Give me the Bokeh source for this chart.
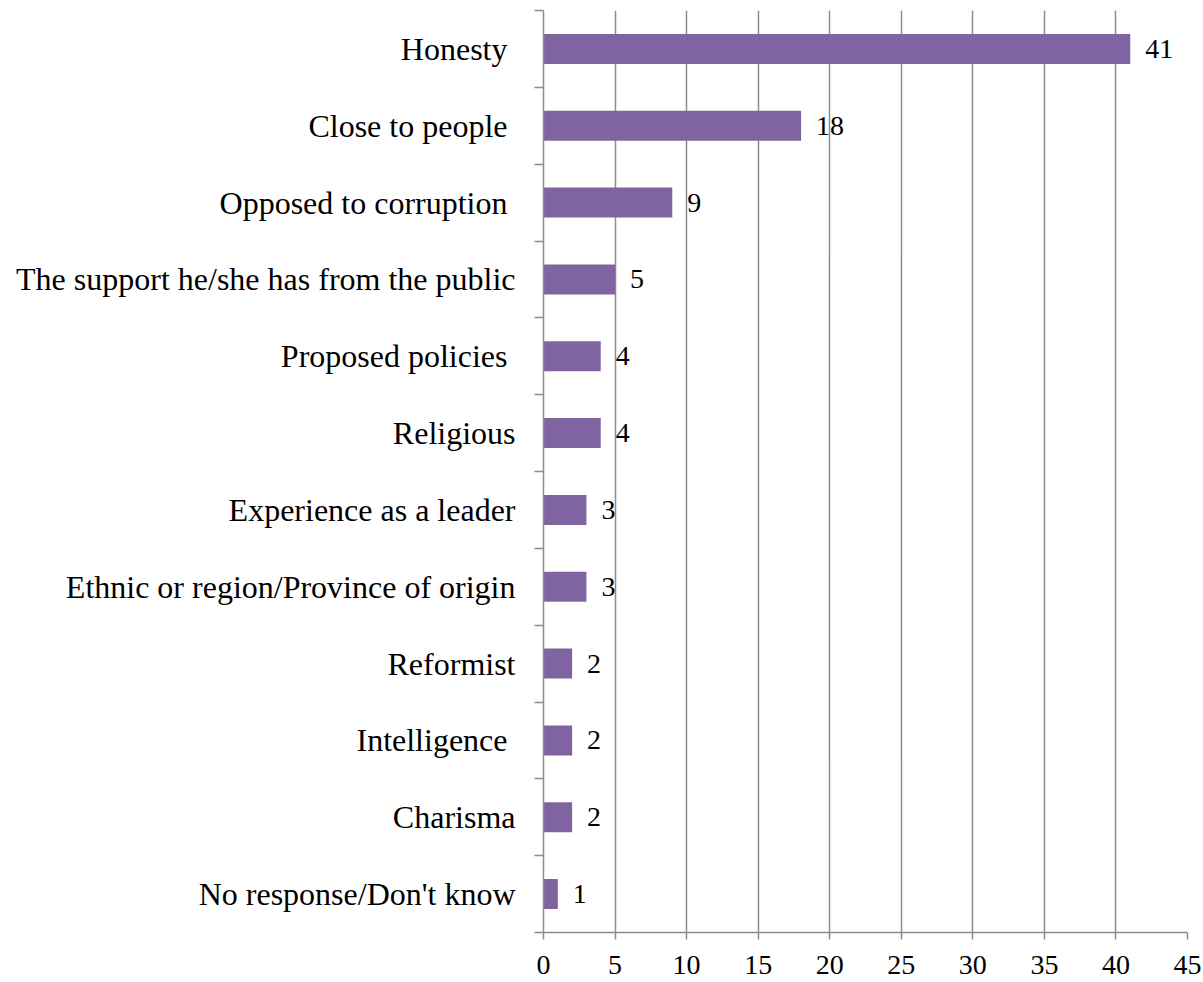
from bokeh.plotting import figure
from bokeh.models import (Range1d, LinearAxis, FixedTicker, ColumnDataSource, LabelSet)
from bokeh.embed import file_html
from bokeh.resources import INLINE

categories = ["Honesty ", "Close to people ", "Opposed to corruption ",
              "The support he/she has from the public", "Proposed  policies", "Religious",
              "Experience as a leader", "Ethnic or region/Province of origin", "Reformist",
              "Intelligence ", "Charisma", "No response/Don't know"]
values = [41, 18, 9, 5, 4, 4, 3, 3, 2, 2, 2, 1]
x_ticks = [0, 5, 10, 15, 20, 25, 30, 35, 40, 45]

FONT = "Liberation Serif"
GRAY = "#8c8c8c"

n = len(categories)
# category slot centres (top category first) and slot boundaries
centers = [n - 0.5 - i for i in range(n)]
bounds = list(range(n + 1))

src = ColumnDataSource(dict(y=centers, val=values, lab=[str(v) for v in values]))

p = figure(width=1203, height=982, output_backend="svg", toolbar_location=None,
           y_range=Range1d(0, n), x_range=Range1d(0, 45), y_axis_location=None,
           min_border_left=543, min_border_right=16, min_border_top=10, min_border_bottom=50)
p.outline_line_color = None
p.background_fill_color = "white"

p.hbar(y="y", right="val", left=0, height=0.39, source=src,
       fill_color="#8064A2", line_color=None)

labels = LabelSet(x="val", y="y", text="lab", source=src, x_offset=15,
                  text_font=FONT, text_font_size="28px", text_baseline="middle",
                  text_color="#000000")
p.add_layout(labels)

cat_axis = LinearAxis(ticker=FixedTicker(ticks=centers, minor_ticks=bounds),
                      major_label_overrides={c: lab for c, lab in zip(centers, categories)},
                      axis_line_color=GRAY, axis_line_width=1.5,
                      major_tick_line_color=None, major_tick_out=0, major_tick_in=0,
                      minor_tick_line_color=GRAY, minor_tick_line_width=1.5,
                      minor_tick_out=9, minor_tick_in=0,
                      major_label_text_font=FONT, major_label_text_font_size="32px",
                      major_label_text_color="#000000", major_label_standoff=19)
p.add_layout(cat_axis, "left")

p.xaxis.ticker = FixedTicker(ticks=x_ticks)
p.xaxis.axis_line_color = GRAY
p.xaxis.axis_line_width = 1.5
p.xaxis.major_tick_line_color = GRAY
p.xaxis.major_tick_line_width = 1.5
p.xaxis.major_tick_out = 7
p.xaxis.major_tick_in = 0
p.xaxis.minor_tick_line_color = None
p.xaxis.major_label_text_font = FONT
p.xaxis.major_label_text_font_size = "28px"
p.xaxis.major_label_text_color = "#000000"
p.xaxis.major_label_standoff = 16

p.xgrid.grid_line_color = GRAY
p.xgrid.grid_line_width = 1.5
p.xgrid.ticker = FixedTicker(ticks=x_ticks)
for g in p.ygrid:
    g.visible = False

open("out.html", "w").write(file_html(p, INLINE))
